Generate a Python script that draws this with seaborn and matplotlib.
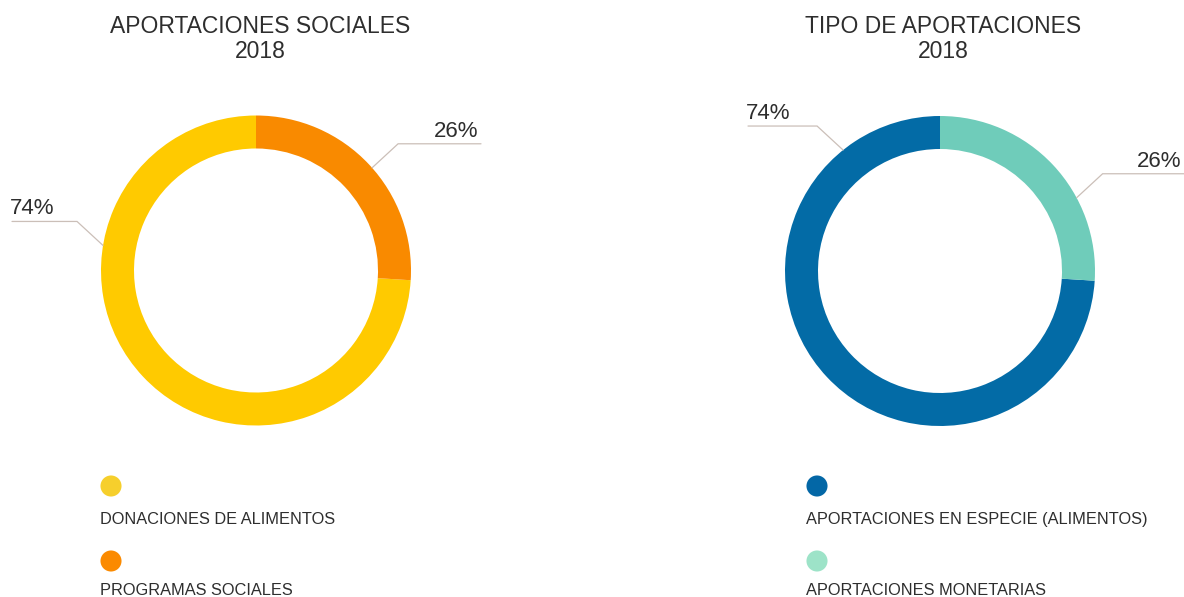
"""
Two donut charts: aportaciones sociales 2018 and tipo de aportaciones 2018.
Drawn on one full-figure axes in pixel units (y up).
"""

import matplotlib
matplotlib.use("Agg")
import matplotlib.pyplot as plt
import numpy as np
import pandas as pd
import seaborn as sns

# ── Data ───────────────────────────────────────────────────────────────────────
left_title   = "APORTACIONES SOCIALES\n2018"
left_labels  = ["DONACIONES DE ALIMENTOS", "PROGRAMAS SOCIALES"]
left_values  = [74, 26]

right_title  = "TIPO DE APORTACIONES\n2018"
right_labels = ["APORTACIONES EN ESPECIE (ALIMENTOS)", "APORTACIONES MONETARIAS"]
right_values = [74, 26]

# ── Style ──────────────────────────────────────────────────────────────────────
W, H = 1184, 597
TEXT = "#2e2e2e"
LEADER = "#cbbfb8"

charts = [
    dict(title=left_title, labels=left_labels, values=left_values,
         colors=["#ffca00", "#f98a00"], dots=["#f6cf2c", "#fb8a00"],
         center=(256, H - 270.5), title_x=260, legend_x=111,
         label_angles=[170.7, 41.5], line_ends=[12, 481]),
    dict(title=right_title, labels=right_labels, values=right_values,
         colors=["#036ba6", "#6fccba"], dots=["#0367a6", "#9de3c8"],
         center=(940, H - 271), title_x=943, legend_x=817,
         label_angles=[128.7, 28.2], line_ends=[748, 1184]),
]
R, RING = 155, 33

sns.set_theme(style="white")
plt.rcParams["font.family"] = ["Liberation Sans", "DejaVu Sans"]

fig = plt.figure(figsize=(W / 100, H / 100), dpi=100)
ax = fig.add_axes([0, 0, 1, 1])

for ch in charts:
    cx, cy = ch["center"]
    ax.pie(ch["values"], colors=ch["colors"], startangle=90, counterclock=True,
           center=(cx, cy), radius=R,
           wedgeprops=dict(width=RING, linewidth=0))

    # ── Percentage labels with elbow leader lines ──────────────────────────────
    total = sum(ch["values"])
    for val, ang, xend in zip(ch["values"], ch["label_angles"], ch["line_ends"]):
        a = np.deg2rad(ang)
        x0, y0 = cx + R * np.cos(a), cy + R * np.sin(a)
        side = 1 if np.cos(a) > 0 else -1
        x1, y1 = x0 + side * 26, y0 + 24
        ax.plot([x0, x1, xend], [y0, y1, y1], color=LEADER, lw=0.9,
                solid_joinstyle="miter")
        pct = f"{round(100 * val / total)}%"
        if side > 0:
            ax.text(xend - 3, y1 + 7, pct, ha="right", va="baseline",
                    fontsize=16, color=TEXT)
        else:
            ax.text(xend - 2, y1 + 7, pct, ha="left", va="baseline",
                    fontsize=16, color=TEXT)

    # ── Title ──────────────────────────────────────────────────────────────────
    ax.text(ch["title_x"], H - 39, ch["title"], ha="center", va="center",
            fontsize=16.5, color=TEXT, linespacing=1.1)

    # ── Legend: dot above each label ───────────────────────────────────────────
    leg = pd.DataFrame({
        "label": ch["labels"],
        "x": [ch["legend_x"]] * len(ch["labels"]),
        "y": [H - 486 - 75 * i for i in range(len(ch["labels"]))],
    })
    sns.scatterplot(data=leg, x="x", y="y", hue="label",
                    palette=dict(zip(ch["labels"], ch["dots"])),
                    s=230, linewidth=0, legend=False, ax=ax)
    for i, lab in enumerate(ch["labels"]):
        ax.text(ch["legend_x"] - 11, H - 524 - 71 * i, lab, ha="left",
                va="baseline", fontsize=11.8, color=TEXT)

ax.set_xlim(0, W)
ax.set_ylim(0, H)
ax.set_aspect("equal", adjustable="box")
ax.set_axis_off()

fig.savefig("out.png", dpi=100)
